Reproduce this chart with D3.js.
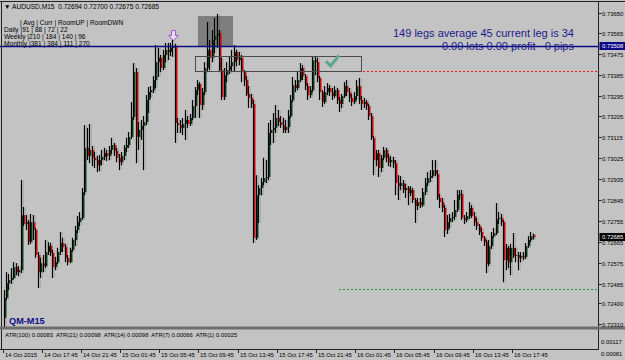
<!DOCTYPE html>
<meta charset="utf-8">
<style>
body { margin: 0; background: #c3c3c3; }
text { font-family: "Liberation Sans", Arial, sans-serif; }
.small { font-size: 6.6px; fill: #000; }
.axis { font-size: 5.9px; fill: #000; }
</style>
<svg width="625" height="360"></svg>
<script src="https://d3js.org/d3.v7.min.js"></script>
<script>

// AUDUSD M15 candles, 14 Oct 13:45 .. 16 Oct 19:45
var opens = [0.72337,0.72423,0.72487,0.72500,0.72509,0.72556,0.72534,0.72543,0.72780,0.72742,
0.72750,0.72664,0.72750,0.72716,0.72608,0.72534,0.72573,0.72560,0.72621,0.72647,
0.72617,0.72556,0.72577,0.72621,0.72660,0.72643,0.72596,0.72577,0.72630,0.72673,
0.72716,0.72750,0.72768,0.72879,0.73070,0.73035,0.73061,0.73027,0.73017,0.72995,
0.73017,0.73031,0.73048,0.73035,0.73061,0.73082,0.73057,0.73027,0.73008,0.73035,
0.73070,0.73082,0.73117,0.73203,0.73396,0.73117,0.73147,0.73164,0.73181,0.73276,
0.73310,0.73319,0.73362,0.73439,0.73458,0.73414,0.73470,0.73492,0.73483,0.73501,
0.73505,0.73177,0.73168,0.73156,0.73173,0.73190,0.73173,0.73199,0.73250,0.73319,
0.73345,0.73254,0.73310,0.73414,0.73492,0.73458,0.73535,0.73552,0.73565,0.73405,
0.73289,0.73383,0.73405,0.73422,0.73439,0.73483,0.73448,0.73458,0.73396,0.73362,
0.73302,0.73285,0.73259,0.72682,0.72866,0.72897,0.72922,0.72940,0.72944,0.73134,
0.73147,0.73156,0.73199,0.73181,0.73168,0.73147,0.73160,0.73207,0.73276,0.73340,
0.73328,0.73362,0.73414,0.73379,0.73336,0.73297,0.73319,0.73448,0.73439,0.73371,
0.73310,0.73267,0.73310,0.73328,0.73310,0.73293,0.73319,0.73276,0.73259,0.73293,
0.73336,0.73310,0.73285,0.73267,0.73293,0.73336,0.73276,0.73259,0.73267,0.73250,
0.73207,0.73113,0.73017,0.73048,0.72983,0.73027,0.73061,0.73027,0.73008,0.73017,
0.73004,0.72918,0.72905,0.72918,0.72888,0.72897,0.72875,0.72888,0.72845,0.72819,
0.72836,0.72823,0.72879,0.72918,0.72940,0.72948,0.72974,0.72957,0.72854,0.72836,
0.72811,0.72716,0.72750,0.72768,0.72772,0.72802,0.72866,0.72871,0.72768,0.72759,
0.72776,0.72811,0.72776,0.72750,0.72733,0.72707,0.72682,0.72664,0.72569,0.72647,
0.72690,0.72703,0.72763,0.72768,0.72750,0.72586,0.72639,0.72577,0.72639,0.72604,
0.72608,0.72596,0.72604,0.72600,0.72647,0.72673,0.72694];

var highs = [0.72457,0.72534,0.72526,0.72552,0.72577,0.72573,0.72560,0.72931,0.72815,0.72780,
0.72759,0.72785,0.72780,0.72725,0.72621,0.72596,0.72608,0.72673,0.72664,0.72660,
0.72630,0.72600,0.72639,0.72707,0.72682,0.72656,0.72608,0.72639,0.72682,0.72733,
0.72776,0.72793,0.72897,0.73168,0.73156,0.73173,0.73078,0.73052,0.73035,0.73039,
0.73061,0.73070,0.73061,0.73078,0.73113,0.73091,0.73070,0.73044,0.73052,0.73082,
0.73113,0.73138,0.73267,0.73435,0.73414,0.73181,0.73190,0.73207,0.73297,0.73332,
0.73336,0.73379,0.73513,0.73501,0.73470,0.73492,0.73522,0.73522,0.73522,0.73535,
0.73518,0.73199,0.73190,0.73199,0.73233,0.73207,0.73216,0.73276,0.73332,0.73362,
0.73353,0.73328,0.73439,0.73612,0.73535,0.73578,0.73630,0.73647,0.73578,0.73458,
0.73414,0.73439,0.73462,0.73492,0.73513,0.73492,0.73483,0.73470,0.73405,0.73379,
0.73336,0.73302,0.73276,0.72952,0.72909,0.72940,0.73027,0.73017,0.73177,0.73190,
0.73220,0.73254,0.73233,0.73207,0.73199,0.73190,0.73233,0.73297,0.73375,0.73362,
0.73396,0.73435,0.73426,0.73388,0.73349,0.73336,0.73462,0.73462,0.73458,0.73379,
0.73319,0.73336,0.73349,0.73340,0.73328,0.73336,0.73328,0.73289,0.73302,0.73353,
0.73362,0.73328,0.73302,0.73310,0.73362,0.73371,0.73293,0.73285,0.73276,0.73259,
0.73220,0.73121,0.73061,0.73061,0.73039,0.73074,0.73070,0.73044,0.73035,0.73031,
0.73017,0.72952,0.72948,0.72931,0.72914,0.72905,0.72905,0.72897,0.72854,0.72854,
0.72854,0.72897,0.72940,0.72965,0.72974,0.73017,0.73017,0.72974,0.72871,0.72854,
0.72823,0.72780,0.72785,0.72793,0.72845,0.72888,0.72888,0.72888,0.72780,0.72793,
0.72836,0.72823,0.72793,0.72768,0.72742,0.72725,0.72690,0.72673,0.72673,0.72707,
0.72725,0.72832,0.72793,0.72785,0.72759,0.72656,0.72647,0.72656,0.72703,0.72639,
0.72621,0.72621,0.72621,0.72660,0.72690,0.72707,0.72700];

var lows = [0.72298,0.72414,0.72457,0.72483,0.72504,0.72521,0.72517,0.72530,0.72733,0.72716,
0.72651,0.72656,0.72673,0.72596,0.72466,0.72509,0.72534,0.72552,0.72608,0.72604,
0.72509,0.72543,0.72569,0.72608,0.72621,0.72577,0.72564,0.72573,0.72621,0.72647,
0.72703,0.72733,0.72759,0.72866,0.73017,0.73004,0.72991,0.72983,0.72965,0.72970,
0.72995,0.73017,0.73013,0.73017,0.73044,0.73035,0.73008,0.72974,0.72995,0.73017,
0.73052,0.73070,0.73108,0.73190,0.73004,0.73061,0.73104,0.72974,0.73168,0.73220,
0.73285,0.73306,0.73328,0.73375,0.73396,0.73405,0.73439,0.73448,0.73466,0.73462,
0.73091,0.73134,0.73134,0.73125,0.73104,0.73156,0.73164,0.73190,0.73199,0.73297,
0.73199,0.73233,0.73297,0.73396,0.73405,0.73439,0.73479,0.73501,0.73396,0.73276,
0.73276,0.73353,0.73388,0.73396,0.73396,0.73422,0.73426,0.73353,0.73336,0.73293,
0.73242,0.73242,0.72660,0.72673,0.72746,0.72866,0.72909,0.72918,0.72931,0.73082,
0.73091,0.73134,0.73164,0.73156,0.73134,0.73134,0.73134,0.73199,0.73267,0.73310,
0.73319,0.73353,0.73362,0.73319,0.73276,0.73285,0.73310,0.73383,0.73353,0.73276,
0.73246,0.73259,0.73297,0.73293,0.73276,0.73285,0.73259,0.73224,0.73242,0.73285,
0.73293,0.73267,0.73250,0.73259,0.73276,0.73259,0.73233,0.73242,0.73233,0.73190,
0.73104,0.72952,0.72991,0.72944,0.72965,0.73017,0.73008,0.72991,0.72987,0.72983,
0.72866,0.72845,0.72888,0.72875,0.72854,0.72823,0.72862,0.72832,0.72746,0.72802,
0.72811,0.72815,0.72866,0.72905,0.72922,0.72940,0.72948,0.72845,0.72811,0.72793,
0.72686,0.72699,0.72725,0.72750,0.72759,0.72793,0.72845,0.72759,0.72742,0.72750,
0.72763,0.72768,0.72733,0.72716,0.72694,0.72669,0.72647,0.72530,0.72560,0.72634,
0.72682,0.72694,0.72742,0.72733,0.72491,0.72543,0.72552,0.72521,0.72596,0.72577,
0.72543,0.72577,0.72586,0.72591,0.72639,0.72664,0.72675];

var closes = [0.72423,0.72487,0.72500,0.72509,0.72556,0.72534,0.72543,0.72780,0.72742,0.72750,
0.72664,0.72750,0.72716,0.72608,0.72534,0.72573,0.72560,0.72621,0.72647,0.72617,
0.72556,0.72577,0.72621,0.72660,0.72643,0.72596,0.72577,0.72630,0.72673,0.72716,
0.72750,0.72768,0.72879,0.73070,0.73035,0.73061,0.73027,0.73017,0.72995,0.73017,
0.73031,0.73048,0.73035,0.73061,0.73082,0.73057,0.73027,0.73008,0.73035,0.73070,
0.73082,0.73117,0.73203,0.73396,0.73117,0.73147,0.73164,0.73181,0.73276,0.73310,
0.73319,0.73362,0.73439,0.73458,0.73414,0.73470,0.73492,0.73483,0.73501,0.73505,
0.73177,0.73168,0.73156,0.73173,0.73190,0.73173,0.73199,0.73250,0.73319,0.73345,
0.73254,0.73310,0.73414,0.73492,0.73458,0.73535,0.73552,0.73565,0.73405,0.73289,
0.73383,0.73405,0.73422,0.73439,0.73483,0.73448,0.73458,0.73396,0.73362,0.73302,
0.73285,0.73259,0.72682,0.72866,0.72897,0.72922,0.72940,0.72944,0.73134,0.73147,
0.73156,0.73199,0.73181,0.73168,0.73147,0.73160,0.73207,0.73276,0.73340,0.73328,
0.73362,0.73414,0.73379,0.73336,0.73297,0.73319,0.73448,0.73439,0.73371,0.73310,
0.73267,0.73310,0.73328,0.73310,0.73293,0.73319,0.73276,0.73259,0.73293,0.73336,
0.73310,0.73285,0.73267,0.73293,0.73336,0.73276,0.73259,0.73267,0.73250,0.73207,
0.73113,0.73017,0.73048,0.72983,0.73027,0.73061,0.73027,0.73008,0.73017,0.73004,
0.72918,0.72905,0.72918,0.72888,0.72897,0.72875,0.72888,0.72845,0.72819,0.72836,
0.72823,0.72879,0.72918,0.72940,0.72948,0.72974,0.72957,0.72854,0.72836,0.72811,
0.72716,0.72750,0.72768,0.72772,0.72802,0.72866,0.72871,0.72768,0.72759,0.72776,
0.72811,0.72776,0.72750,0.72733,0.72707,0.72682,0.72664,0.72569,0.72647,0.72690,
0.72703,0.72763,0.72768,0.72750,0.72586,0.72639,0.72577,0.72639,0.72604,0.72608,
0.72596,0.72604,0.72600,0.72647,0.72673,0.72690,0.72685];

var timeLabels = ["14 Oct 2015","14 Oct 17:45","14 Oct 21:45","15 Oct 01:45","15 Oct 05:45",
  "15 Oct 09:45","15 Oct 13:45","15 Oct 17:45","15 Oct 21:45","16 Oct 01:45","16 Oct 05:45",
  "16 Oct 09:45","16 Oct 13:45","16 Oct 17:45"];
var barsPerLabel = 16;

var priceTicks = [0.73650,0.73565,0.73475,0.73385,0.73295,0.73205,0.73115,0.73025,0.72935,
  0.72845,0.72755,0.72665,0.72575,0.72485,0.72400,0.72310];

var lineLevel = 0.73508;      // blue horizontal line
var redLevel = 0.73402;       // red dotted
var greenLevel = 0.72461;     // green dotted
var zoneBox = {from: 78, to: 146, top: 0.73466, bottom: 0.73401};
var grayBox = {from: 80, to: 93, top: 0.73638, bottom: 0.73508};
var levelStart = 137;

var infoRows = ["Daily  |91 | 88 | 72 | 22", "Weekly  |210 | 184 | 140 | 96", "Monthly  |381 | 384 | 111 | 270"];
var atrText = "ATR(100) 0.00083  ATR(21) 0.00098  ATR(14) 0.00098  ATR(7) 0.00066  ATR(1) 0.00025";
var atrTicks = ["0.00117", "0.00081"];

var svg = d3.select("svg"),
    axisX = 598.5;

var x = d3.scaleLinear().domain([0, 216]).range([3.5, 532.5]);
var y = d3.scaleLinear().domain([0.72285, 0.73707]).range([330, 0]);
var px = function(i) { return Math.round(x(i)); };

svg.append("rect").attr("width", 625).attr("height", 360).attr("fill", "#c3c3c3");

// gray box behind candles
svg.append("rect")
    .attr("x", px(grayBox.from) - 1).attr("y", y(grayBox.top))
    .attr("width", px(grayBox.to) - px(grayBox.from) + 3)
    .attr("height", y(grayBox.bottom) - y(grayBox.top))
    .attr("fill", "#7e7e7e");

// dotted levels
svg.append("line")
    .attr("x1", px(levelStart)).attr("x2", axisX)
    .attr("y1", Math.round(y(redLevel)) + 0.5).attr("y2", Math.round(y(redLevel)) + 0.5)
    .attr("stroke", "#f01818").attr("stroke-dasharray", "2,2");
svg.append("line")
    .attr("x1", px(levelStart)).attr("x2", axisX)
    .attr("y1", Math.round(y(greenLevel)) + 0.5).attr("y2", Math.round(y(greenLevel)) + 0.5)
    .attr("stroke", "#259a25").attr("stroke-dasharray", "2,2");

// candles
var idx = d3.range(closes.length);
var candle = svg.append("g").selectAll("g").data(idx).enter().append("g");

candle.append("rect")
    .attr("x", function(i) { return px(i) - 1; })
    .attr("y", function(i) { return y(highs[i]); })
    .attr("width", 4)
    .attr("height", function(i) { return y(lows[i]) - y(highs[i]); })
    .attr("fill", "#000").attr("opacity", 0.1);

candle.append("line")
    .attr("x1", function(i) { return px(i) + 0.5; })
    .attr("x2", function(i) { return px(i) + 0.5; })
    .attr("y1", function(i) { return y(highs[i]); })
    .attr("y2", function(i) { return y(lows[i]); })
    .attr("stroke", "#000");

candle.append("rect")
    .attr("x", function(i) { return px(i) + 1; })
    .attr("y", function(i) { return y(Math.max(opens[i], closes[i])); })
    .attr("width", 1.4)
    .attr("height", function(i) { return Math.max(1, Math.abs(y(opens[i]) - y(closes[i]))); })
    .attr("fill", function(i) { return closes[i] >= opens[i] ? "#0b3b12" : "#d00000"; });

// zone rectangle
svg.append("rect")
    .attr("x", px(zoneBox.from) + 0.5).attr("y", Math.round(y(zoneBox.top)) + 0.5)
    .attr("width", px(zoneBox.to) - px(zoneBox.from))
    .attr("height", Math.round(y(zoneBox.bottom) - y(zoneBox.top)))
    .attr("fill", "none").attr("stroke", "#4a4a4a");

// check mark
svg.append("path")
    .attr("d", "M326,61 L330.5,66 L339,55.5")
    .attr("fill", "none").attr("stroke", "#5aa88a").attr("stroke-width", 3);

// fractal arrow
svg.append("path")
    .attr("d", "M171.5,30.5 h4 v5 h3 l-5,5 l-5,-5 h3 z")
    .attr("fill", "#e6dcf2").attr("stroke", "#9a5ad0");

// blue line
svg.append("line")
    .attr("x1", 0).attr("x2", axisX)
    .attr("y1", Math.round(y(lineLevel)) + 0.5).attr("y2", Math.round(y(lineLevel)) + 0.5)
    .attr("stroke", "#0a0a84").attr("stroke-width", 1.3);

// frame
svg.append("line").attr("x1", 0).attr("x2", 625).attr("y1", 1.5).attr("y2", 1.5).attr("stroke", "#222");
svg.append("line").attr("x1", 1.5).attr("x2", 1.5).attr("y1", 1).attr("y2", 349).attr("stroke", "#222");
svg.append("line").attr("x1", axisX).attr("x2", axisX).attr("y1", 1).attr("y2", 350).attr("stroke", "#222");
svg.append("rect").attr("x", 0).attr("y", 326.5).attr("width", 625).attr("height", 3).attr("fill", "#6e6e6e");
svg.append("line").attr("x1", 0).attr("x2", axisX).attr("y1", 349.5).attr("y2", 349.5).attr("stroke", "#222");

// price axis
var pt = svg.append("g").selectAll("g").data(priceTicks).enter().append("g")
    .attr("transform", function(d) { return "translate(0," + (Math.round(y(d)) + 0.5) + ")"; });
pt.append("line").attr("x1", axisX).attr("x2", axisX + 3).attr("stroke", "#222");
pt.append("text").attr("class", "axis").attr("x", 602).attr("y", 2.2).text(function(d) { return d.toFixed(5); });

function priceTag(p, bg) {
  var yy = Math.round(y(p));
  svg.append("rect").attr("x", 599.5).attr("y", yy - 4).attr("width", 25.5).attr("height", 8).attr("fill", bg);
  svg.append("text").attr("class", "axis").attr("x", 602).attr("y", yy + 2.2)
      .style("fill", "#fff").text(p.toFixed(5));
}
priceTag(lineLevel, "#0a0a84");
priceTag(closes[closes.length - 1], "#000");

// time axis
var tt = svg.append("g").selectAll("g").data(timeLabels).enter().append("g")
    .attr("transform", function(d, k) { return "translate(" + (px(k * barsPerLabel) - 1 + 0.5) + ",0)"; });
tt.append("line").attr("y1", 349).attr("y2", 353).attr("stroke", "#222");
tt.append("text").attr("class", "axis").attr("x", 1.5).attr("y", 357).text(function(d) { return d; });

// sub window
svg.append("text").attr("class", "axis").attr("x", 5).attr("y", 336.5)
    .style("white-space", "pre").text(atrText);
svg.selectAll(".atrtick").data(atrTicks).enter().append("text")
    .attr("class", "axis").attr("x", 601).attr("y", function(d, k) { return 344 + k * 12; })
    .text(function(d) { return d; });

// top-left info
svg.append("text").attr("class", "small").attr("x", 4).attr("y", 9)
    .style("white-space", "pre")
    .text("\u25BC AUDUSD,M15  " + [opens, highs, lows, closes].map(function(a) { return a[a.length - 1].toFixed(5); }).join(" "));
svg.append("text").attr("class", "small").attr("x", 20).attr("y", 24.5).text("| Avg | Curr | RoomUP | RoomDWN");
svg.selectAll(".info").data(infoRows).enter().append("text")
    .attr("class", "small").attr("x", 4).attr("y", function(d, k) { return 31.5 + k * 7; })
    .text(function(d) { return d; });

// leg stats
svg.append("text").attr("x", 574).attr("y", 37).attr("text-anchor", "end")
    .style("font-size", "11px").style("fill", "#1a1a8a")
    .text("149 legs average 45 current leg is 34");
svg.append("text").attr("x", 574).attr("y", 50).attr("text-anchor", "end")
    .style("font-size", "11px").style("fill", "#1a1a8a").style("white-space", "pre")
    .text("0.00 lots 0.00 profit   0 pips");

svg.append("text").attr("x", 9).attr("y", 324)
    .style("font-size", "9.2px").style("font-weight", "bold").style("fill", "#101088")
    .text("QM-M15");

</script>
